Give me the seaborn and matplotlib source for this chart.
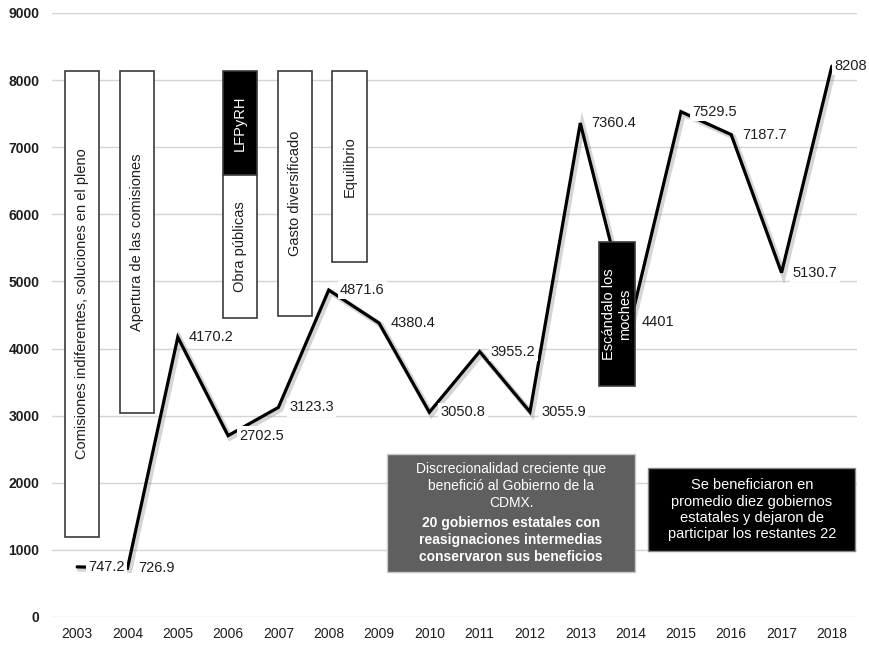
import matplotlib
matplotlib.use("Agg")
import matplotlib.pyplot as plt
import matplotlib.patheffects as pe
from matplotlib.patches import Rectangle
import seaborn as sns
import pandas as pd

# Annual amounts, 2003-2018
years = [2003, 2004, 2005, 2006, 2007, 2008, 2009, 2010,
         2011, 2012, 2013, 2014, 2015, 2016, 2017, 2018]
amounts = [747.2, 726.9, 4170.2, 2702.5, 3123.3, 4871.6, 4380.4, 3050.8,
           3955.2, 3055.9, 7360.4, 4401, 7529.5, 7187.7, 5130.7, 8208]
y_ticks = [0, 1000, 2000, 3000, 4000, 5000, 6000, 7000, 8000, 9000]

# Period notes shown as vertical bands
period_notes = [
    "Comisiones indiferentes, soluciones en el pleno",
    "Apertura de las comisiones",
    "LFPyRH",
    "Obra públicas",
    "Gasto diversificado",
    "Equilibrio",
    "Escándalo los\nmoches",
]
gray_note_plain = "Discrecionalidad creciente que\nbenefició al Gobierno de la\nCDMX."
gray_note_bold = "20 gobiernos estatales con\nreasignaciones intermedias\nconservaron sus beneficios"
black_note = ("Se beneficiaron en\npromedio diez gobiernos\n"
              "estatales y dejaron de\nparticipar los restantes 22")

df = pd.DataFrame({"year": years, "amount": amounts})

sns.set_theme(style="white")
plt.rcParams["font.family"] = ["Liberation Sans", "DejaVu Sans"]

fig = plt.figure(figsize=(8.7, 6.47), dpi=100)
ax = fig.add_axes([52 / 870, 30 / 647, 805 / 870, 604 / 647])

ax.set_xlim(2002.5, 2018.5)
ax.set_ylim(0, 9000)
ax.set_yticks(y_ticks)
ax.set_xticks(years)
ax.set_xticklabels([str(y) for y in years])
ax.yaxis.grid(True, color="#d4d4d4", lw=1.0)
ax.xaxis.grid(False)
ax.set_axisbelow(True)
for s in ax.spines.values():
    s.set_visible(False)
ax.tick_params(axis="y", length=0, pad=9, labelsize=10, labelcolor="#1e1e1e")
ax.tick_params(axis="x", length=0, pad=7, labelsize=10, labelcolor="#1e1e1e")
for lab in ax.get_yticklabels():
    lab.set_fontweight("bold")

# Main series with a soft drop shadow
sns.lineplot(data=df, x="year", y="amount", color="black", lw=2.3, ax=ax,
             zorder=3, legend=False)
ax.xaxis.label.set_visible(False)
ax.yaxis.label.set_visible(False)
ax.lines[0].set_path_effects([
    pe.SimpleLineShadow(offset=(1.5, -1.5), shadow_color="#777777", alpha=0.3, linewidth=4),
    pe.Normal(),
])
ax.lines[0].set_solid_joinstyle("miter")

# Value labels on white backgrounds
for i, (x, v) in enumerate(zip(years, amounts)):
    dx = 2 if i == len(years) - 1 else 8
    ax.annotate(f"{v:g}", (x, v), xytext=(dx, 0), textcoords="offset points",
                ha="left", va="center", fontsize=10.5, color="#1e1e1e",
                bbox=dict(boxstyle="square,pad=0.15", fc="white", ec="none"),
                zorder=4, annotation_clip=False)


def band(x0, x1, y0, y1, fc, text, tc, z=5):
    ax.add_patch(Rectangle((x0, y0), x1 - x0, y1 - y0, facecolor=fc,
                           edgecolor="#3a3a3a", lw=1.2, zorder=z))
    ax.text((x0 + x1) / 2, (y0 + y1) / 2, text, rotation=90, ha="center",
            va="center", color=tc, fontsize=10.5, zorder=z + 1,
            multialignment="center", linespacing=1.15)


band(2002.76, 2003.44, 1192, 8137, "white", period_notes[0], "#1e1e1e")
band(2003.855, 2004.53, 3040, 8137, "white", period_notes[1], "#1e1e1e")
band(2005.90, 2006.58, 6587, 8137, "black", period_notes[2], "white")
band(2005.90, 2006.58, 4456, 6587, "white", period_notes[3], "#1e1e1e")
band(2007.0, 2007.67, 4486, 8137, "white", period_notes[4], "#1e1e1e")
band(2008.07, 2008.77, 5290, 8137, "white", period_notes[5], "#1e1e1e")
band(2013.38, 2014.09, 3443, 5589, "black", period_notes[6], "white", z=6)

# Gray note box
ax.add_patch(Rectangle((2009.16, 671), 2014.09 - 2009.16, 2429 - 671,
                       facecolor="#5f5f5f", edgecolor="#c8c8c8", lw=1.0, zorder=5))
gx = (2009.16 + 2014.09) / 2
ax.text(gx, 1950, gray_note_plain, ha="center", va="center", color="white",
        fontsize=10, linespacing=1.3, multialignment="center", zorder=6)
ax.text(gx, 1148, gray_note_bold, ha="center", va="center", color="white",
        fontsize=10, fontweight="bold", linespacing=1.25,
        multialignment="center", zorder=6)

# Black note box
ax.add_patch(Rectangle((2014.35, 984), 2018.47 - 2014.35, 2221 - 984,
                       facecolor="black", edgecolor="#888888", lw=1.0, zorder=5))
ax.text((2014.35 + 2018.47) / 2, 1600, black_note, ha="center", va="center",
        color="white", fontsize=10.5, linespacing=1.2,
        multialignment="center", zorder=6)

fig.savefig("out.png", dpi=100)
